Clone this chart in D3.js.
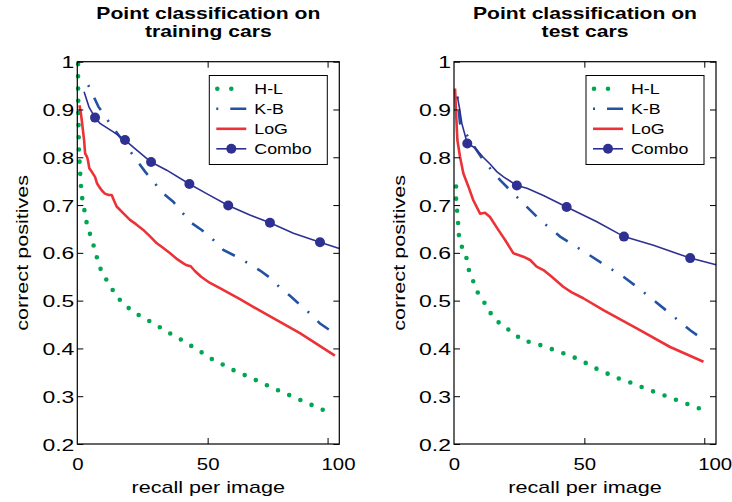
<!DOCTYPE html>
<html>
<head>
<meta charset="utf-8">
<script src="https://cdn.jsdelivr.net/npm/d3@7"></script>
<style>
  body { margin: 0; background: #fff; }
</style>
</head>
<body>
<script>
// axis ticks
var yTicks = [0.2, 0.3, 0.4, 0.5, 0.6, 0.7, 0.8, 0.9, 1];
var xTickLabels = [0, 50, 100];
var xTickMarks = [50, 96];
var legendNames = ["H-L", "K-B", "LoG", "Combo"];

// training cars: [recall per image, correct positives]
var hlTrain = [[0.3,0.995],[0.3,0.95],[0.4,0.905],[0.5,0.86],[0.6,0.815],[0.9,0.787],[1.2,0.759],[1.5,0.731],[1.9,0.714],[2.7,0.69],[3.3,0.669],[4.6,0.644],[5.9,0.622],[7.0,0.601],[8.1,0.578],[9.6,0.557],[12.3,0.534],[14.8,0.511],[17.9,0.492],[21.7,0.476],[25.6,0.463],[29.8,0.451],[34,0.436],[38.4,0.423],[42.6,0.409],[46.8,0.395],[51.2,0.379],[55.5,0.367],[60.1,0.354],[64.7,0.343],[69.2,0.332],[73.9,0.32],[78.5,0.309],[83.1,0.298],[87.7,0.287],[92.3,0.276],[96.9,0.265]];
var kbTrain = [[4.2,0.951],[8.1,0.906],[12.5,0.871],[16,0.845],[18.3,0.83],[20.9,0.808],[26,0.77],[29.2,0.749],[33,0.724],[36.8,0.707],[40,0.686],[43.9,0.662],[47.7,0.648],[52.2,0.627],[56,0.606],[61.1,0.592],[65.6,0.578],[70.1,0.563],[73.9,0.548],[77.8,0.527],[81.6,0.51],[84.9,0.494],[89.3,0.473],[93.1,0.452],[96.9,0.438]];
var logTrain = [[0.8,0.909],[1.3,0.895],[1.7,0.878],[2.2,0.855],[2.6,0.836],[3,0.808],[3.8,0.8],[4.2,0.79],[4.6,0.777],[5.5,0.77],[6.8,0.759],[7.6,0.745],[8.4,0.738],[9.5,0.73],[10.6,0.724],[12,0.721],[13.2,0.721],[14.2,0.708],[15.1,0.697],[17.6,0.683],[20.2,0.669],[22.5,0.66],[25.3,0.648],[28,0.634],[30.5,0.62],[33,0.61],[35.6,0.599],[38,0.588],[40.7,0.578],[42,0.574],[43.5,0.572],[45.1,0.562],[47.5,0.55],[50.9,0.537],[54.7,0.526],[62.4,0.503],[72.6,0.471],[85.4,0.432],[98.8,0.385]];
var comboTrain = [[2.6,0.937],[4.5,0.905],[6.8,0.883],[8.7,0.871],[13.8,0.853],[18.3,0.836],[22.8,0.815],[28.3,0.79],[34.3,0.773],[43,0.744],[49.6,0.724],[57.9,0.699],[66.2,0.679],[73.9,0.663],[82.9,0.641],[93.1,0.622],[100.5,0.609]];
var comboTrainMarks = [[6.8,0.883],[18.3,0.836],[28.3,0.79],[43,0.744],[57.9,0.699],[73.9,0.663],[93.1,0.622]];

// test cars
var hlTest = [[0.8,0.739],[0.8,0.71],[1.3,0.682],[1.7,0.654],[2,0.626],[3,0.613],[4.2,0.599],[5.3,0.58],[5.9,0.557],[7.7,0.537],[9.1,0.517],[11,0.503],[12.9,0.482],[15.9,0.461],[18.9,0.445],[22.5,0.435],[26,0.417],[30.4,0.412],[35.2,0.403],[39.8,0.394],[44.5,0.385],[49.1,0.374],[53.7,0.36],[58.2,0.349],[62.7,0.338],[67.5,0.329],[72.1,0.319],[76.9,0.309],[81.6,0.3],[86.3,0.29],[90.9,0.281],[95.7,0.271]];
var kbTest = [[1.3,0.927],[2.3,0.871],[6.1,0.836],[11.2,0.794],[17.7,0.752],[24.1,0.717],[33,0.669],[40.7,0.634],[50.9,0.599],[58.6,0.572],[65,0.55],[70.1,0.529],[82.9,0.473],[90.6,0.438],[95.7,0.418]];
var logTest = [[0.4,0.944],[0.8,0.892],[1.3,0.836],[2.3,0.801],[3.6,0.766],[5.5,0.739],[7.4,0.71],[10,0.682],[11.9,0.684],[13.8,0.675],[17,0.648],[19.6,0.627],[22.8,0.599],[26.6,0.592],[29.2,0.585],[31.7,0.571],[34.3,0.564],[37.5,0.55],[41.9,0.529],[45,0.518],[49.6,0.505],[57.3,0.48],[70.1,0.442],[82.9,0.403],[95.7,0.372]];
var comboTest = [[1.3,0.927],[2.2,0.9],[3,0.871],[5.1,0.829],[8,0.82],[11.2,0.8],[14,0.785],[16.4,0.77],[19,0.759],[24.1,0.741],[28,0.735],[34.3,0.72],[43.2,0.696],[54.8,0.665],[65.2,0.634],[76.5,0.616],[90.6,0.589],[100.5,0.575]];
var comboTestMarks = [[5.1,0.829],[24.1,0.741],[43.2,0.696],[65.2,0.634],[90.6,0.589]];

var titleTrain = ["Point classification on", "training cars"];
var titleTest = ["Point classification on", "test cars"];

var width = 732, height = 502;
var font = "'Liberation Sans', Arial, Helvetica, sans-serif";
var colors = { hl: "#00a651", kb: "#2352a3", log: "#ed3237", combo: "#2e3192" };
// the original lettering is wider than Arial
var wide = 1.35;

var svg = d3.select("body").append("svg")
  .attr("width", width)
  .attr("height", height);

var panels = [
  { title: titleTrain, hl: hlTrain, kb: kbTrain, log: logTrain, combo: comboTrain, marks: comboTrainMarks, left: 77.3, right: 339.3 },
  { title: titleTest, hl: hlTest, kb: kbTest, log: logTest, combo: comboTest, marks: comboTestMarks, left: 454, right: 716 }
];

function label(g, x, y, str, size, k, anchor, rot, weight) {
  return g.append("text")
    .attr("transform", "translate(" + x + "," + y + ")" + (rot ? " rotate(" + rot + ")" : "") + " scale(" + k + ",1)")
    .attr("text-anchor", anchor)
    .attr("font-family", font)
    .attr("font-size", size)
    .attr("font-weight", weight || "normal")
    .attr("fill", "#000")
    .text(str);
}

panels.forEach(function (p) {
  var x = d3.scaleLinear().domain([0, 100.5]).range([p.left, p.right]);
  var y = d3.scaleLinear().domain([0.2, 1]).range([444, 61.7]);
  var g = svg.append("g");
  var line = d3.line().x(function (d) { return x(d[0]); }).y(function (d) { return y(d[1]); });
  var cx = (p.left + p.right) / 2;

  // title
  label(g, cx, 19, p.title[0], 16, 1.32, "middle", 0, "bold");
  label(g, cx, 37, p.title[1], 16, 1.32, "middle", 0, "bold");

  // curves
  g.append("path").datum(p.hl).attr("d", line)
    .attr("fill", "none").attr("stroke", colors.hl).attr("stroke-width", 4.6)
    .attr("stroke-linecap", "round").attr("stroke-dasharray", "0,12.2");
  g.append("path").datum(p.kb).attr("d", line)
    .attr("fill", "none").attr("stroke", colors.kb).attr("stroke-width", 2.6)
    .attr("stroke-dasharray", "2,12,14,12");
  g.append("path").datum(p.log).attr("d", line)
    .attr("fill", "none").attr("stroke", colors.log).attr("stroke-width", 2.6)
    .attr("stroke-linejoin", "round");
  g.append("path").datum(p.combo).attr("d", line)
    .attr("fill", "none").attr("stroke", colors.combo).attr("stroke-width", 1.6);
  g.selectAll(".mark").data(p.marks).enter().append("circle")
    .attr("class", "mark")
    .attr("cx", function (d) { return x(d[0]); })
    .attr("cy", function (d) { return y(d[1]); })
    .attr("r", 5)
    .attr("fill", colors.combo);

  // box and inward ticks
  g.append("rect")
    .attr("x", x(0)).attr("y", y(1))
    .attr("width", x(100.5) - x(0)).attr("height", y(0.2) - y(1))
    .attr("fill", "none").attr("stroke", "#000").attr("stroke-width", 1.2);

  var yAxisG = g.append("g").attr("transform", "translate(" + x(0) + ",0)")
    .call(d3.axisLeft(y).tickValues(yTicks).tickSize(-6)
      .tickFormat(function (d) { return d === 1 ? "1" : d3.format(".1f")(d); }));
  yAxisG.select(".domain").remove();
  yAxisG.selectAll(".tick text")
    .attr("x", null).attr("dy", "0.36em")
    .attr("transform", "translate(-3,0) scale(" + wide + ",1)")
    .attr("font-family", font).attr("font-size", 17);

  var rAxisG = g.append("g").attr("transform", "translate(" + x(100.5) + ",0)")
    .call(d3.axisRight(y).tickValues(yTicks).tickSize(-6).tickFormat(""));
  rAxisG.select(".domain").remove();

  var xAxisG = g.append("g").attr("transform", "translate(0," + y(0.2) + ")")
    .call(d3.axisBottom(x).tickValues(xTickLabels).tickSize(0));
  xAxisG.select(".domain").remove();
  xAxisG.selectAll(".tick text")
    .attr("y", null).attr("dy", null)
    .attr("transform", "translate(0,26) scale(1.2,1)")
    .attr("font-family", font).attr("font-size", 17);

  var bAxisG = g.append("g").attr("transform", "translate(0," + y(0.2) + ")")
    .call(d3.axisBottom(x).tickValues(xTickMarks).tickSize(-6).tickFormat(""));
  bAxisG.select(".domain").remove();
  var tAxisG = g.append("g").attr("transform", "translate(0," + y(1) + ")")
    .call(d3.axisTop(x).tickValues(xTickMarks).tickSize(-6).tickFormat(""));
  tAxisG.select(".domain").remove();
  g.selectAll(".tick line").attr("stroke", "#000");

  // axis labels
  label(g, cx, 493, "recall per image", 16, wide, "middle");
  label(g, x(0) - 49, (y(1) + y(0.2)) / 2, "correct positives", 16, wide, "middle", -90);

  // legend
  var lx = p.right - 130, ly = 75.5;
  var lg = g.append("g").attr("transform", "translate(" + lx + "," + ly + ")");
  lg.append("rect").attr("width", 118).attr("height", 89)
    .attr("fill", "#fff").attr("stroke", "#000").attr("stroke-width", 1);
  var items = lg.selectAll(".item").data(legendNames).enter().append("g")
    .attr("class", "item")
    .attr("transform", function (d, i) { return "translate(0," + (13.3 + i * 20) + ")"; });
  items.each(function (d, i) {
    var it = d3.select(this);
    var ln = it.append("line").attr("x1", 7).attr("x2", 37).attr("fill", "none");
    if (i === 0) ln.attr("x1", 8).attr("x2", 36).attr("stroke", colors.hl).attr("stroke-width", 4.6).attr("stroke-linecap", "round").attr("stroke-dasharray", "0,14");
    if (i === 1) ln.attr("stroke", colors.kb).attr("stroke-width", 2.6).attr("stroke-dasharray", "2,12,16,12");
    if (i === 2) ln.attr("stroke", colors.log).attr("stroke-width", 2.6);
    if (i === 3) {
      ln.attr("stroke", colors.combo).attr("stroke-width", 1.6);
      it.append("circle").attr("cx", 22).attr("r", 5).attr("fill", colors.combo);
    }
    label(it, 45, 5, d, 14, 1.27, "start");
  });
});
</script>
</body>
</html>
